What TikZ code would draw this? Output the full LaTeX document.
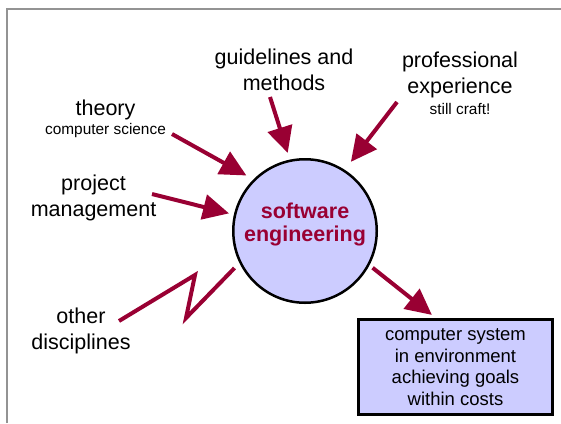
\documentclass[tikz,border=0pt]{standalone}
\usepackage{fontspec}
\setmainfont{Liberation Sans}
\usetikzlibrary{positioning,arrows.meta,calc}
\definecolor{wine}{HTML}{990033}
\definecolor{lilac}{HTML}{CCCCFF}

\begin{document}
\begin{tikzpicture}[x=1pt,y=-1pt]
    \tikzset{
        lbl/.style={align=center,anchor=base,inner sep=0pt,font=\fontsize{21.5}{25.5}\selectfont},
        feed/.style={draw=wine,line width=4pt,-{Triangle[length=26pt,width=25pt]}},}
    \def\sml{\fontsize{15.4}{17}\selectfont}
    \useasboundingbox (0,0) rectangle (561,423);
    \draw [gray!85,line width=1.2pt] (7,423) -- (7,9) -- (561,9);
    % the hub
    \node (se) [circle,draw,line width=2.5pt,fill=lilac,minimum size=143.5pt,inner sep=0pt] at (305,231) {};
    \node (setext) [align=center,text=wine,font=\fontsize{21.5}{22.5}\selectfont\bfseries] at (305,224.5) {software\\engineering};
    \node (bx) [draw,line width=3pt,fill=lilac,minimum width=194pt,minimum height=95pt,align=center,
        font=\fontsize{18.5}{21.7}\selectfont] at (455.5,367)
        {computer system\\in environment\\achieving goals\\within costs};
    % inputs
    \node (gd) [lbl] at (284,90) {guidelines and\\methods};
    \node (pr) [lbl] at (460,114) {professional\\experience\\[-4.5pt]{\sml still craft!}};
    \node (th) [lbl] at (105.5,134) {theory\\[-6.5pt]{\sml computer science}};
    \node (pm) [lbl] at (93.5,216) {project\\management};
    \node (ot) [lbl] at (81,349) {other\\disciplines};
    \coordinate (gdtail) at (270,97);
    \coordinate (prtail) at (397,102);
    \coordinate (thtail) at (172,134);
    \coordinate (pmtail) at (152,194);
    \coordinate (ottail) at (119,321);
    \coordinate (zz1) at (195,275);
    \coordinate (zz2) at (186,318);
    \draw [feed,shorten >=7pt] (gdtail) -- (se.102);
    \draw [feed,shorten >=10pt] (prtail) -- (se.57);
    \draw [feed,shorten >=8pt] (thtail) -- (se.135);
    \draw [feed,shorten >=5pt] (pmtail) -- (se.167);
    \draw [draw=wine,line width=4pt,shorten >=7pt] (ottail) -- (zz1) -- (zz2) -- (se.206);
    \draw [feed,shorten <=4pt,shorten >=5pt] (se.-28) -- ($(bx.north west)!0.4!(bx.north east)$);
\end{tikzpicture}
\end{document}
